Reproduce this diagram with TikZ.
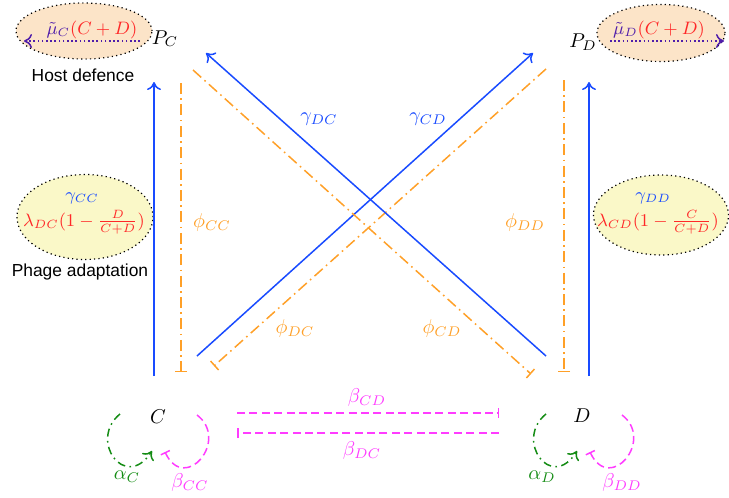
\documentclass[tikz,border=0pt]{standalone}
\usepackage{fontspec}
\newfontfamily\labelfont{Liberation Sans}
\usetikzlibrary{arrows.meta,shapes.geometric}
\definecolor{cblue}{RGB}{25,75,255}
\definecolor{corange}{RGB}{255,160,40}
\definecolor{cmag}{RGB}{255,60,255}
\definecolor{cgreen}{RGB}{20,140,20}
\definecolor{cred}{RGB}{255,40,40}
\definecolor{cpurple}{RGB}{80,30,170}
\definecolor{cpeach}{RGB}{252,228,200}
\definecolor{cyell}{RGB}{250,248,200}
\begin{document}
\begin{tikzpicture}[x=0.5pt,y=-0.5pt,
  every node/.style={inner sep=0pt},
  lw/.style={line width=0.75pt},
  gam/.style={lw, draw=cblue, -{Computer Modern Rightarrow[length=4pt,width=7pt]}},
  phi/.style={lw, draw=corange, dash pattern=on 5.5pt off 2.2pt on 0.8pt off 2.2pt, -{Bar[width=6pt]}},
  beta/.style={lw, draw=cmag, dash pattern=on 4pt off 2.2pt, -{Bar[width=5pt]}},
  alpha/.style={lw, draw=cgreen, dash pattern=on 4pt off 2.2pt on 0.8pt off 2.2pt, -{Computer Modern Rightarrow[length=4pt,width=7pt]}},
  muarrow/.style={lw, draw=cpurple, dash pattern=on 0.8pt off 1.3pt, -{Computer Modern Rightarrow[length=4pt,width=7pt]}},
  bubble/.style={ellipse, draw=black, line width=0.6pt, dash pattern=on 0.6pt off 1.6pt},
  btext/.style={font=\fontsize{9.2}{11}\selectfont},
  sans/.style={font=\labelfont\fontsize{8.7}{10}\selectfont},
  glab/.style={text=cblue},
  flab/.style={text=corange},
  blab/.style={text=cmag},
  alab/.style={text=cgreen}
]
\useasboundingbox (0,0) rectangle (729,498);
% bubbles
\node[bubble, fill=cpeach, minimum width=68pt, minimum height=28pt] (hostC) at (84,31) {};
\node[bubble, fill=cpeach, minimum width=64pt, minimum height=28.5pt] (hostD) at (661,33) {};
\node[bubble, fill=cyell, minimum width=68pt, minimum height=42.5pt] (adaC) at (85,217) {};
\node[bubble, fill=cyell, minimum width=67.5pt, minimum height=40pt] (adaD) at (661,215) {};
% bubble texts
\node[btext, anchor=base] (muC) at (92,34) {$\color{cpurple}\tilde\mu_C\color{cred}(C+D)$};
\node[btext, anchor=base] (muD) at (659,34) {$\color{cpurple}\tilde\mu_D\color{cred}(C+D)$};
\node[btext, anchor=base, glab] (gCC) at (82,200) {$\gamma_{CC}$};
\node[btext, anchor=base, text=cred] (lDC) at (84,226) {$\lambda_{DC}(1-\frac{D}{C+D})$};
\node[btext, anchor=base, glab] (gDD) at (653,200) {$\gamma_{DD}$};
\node[btext, anchor=base, text=cred] (lCD) at (658,226) {$\lambda_{CD}(1-\frac{C}{C+D})$};
\node[sans] (hd) at (83,75) {Host defence};
\node[sans] (pa) at (80,272) {Phage adaptation};
% main nodes
\node[anchor=base] (PC) at (165,44) {$P_C$};
\node[anchor=base] (PD) at (583,47) {$P_D$};
\node[anchor=base] (C) at (158,423) {$C$};
\node[anchor=base] (D) at (582,422) {$D$};
% endpoints
\coordinate (muCs) at (140,41); \coordinate (muCe) at (24,41);
\coordinate (muDs) at (610,41); \coordinate (muDe) at (724,41);
\coordinate (gCCs) at (154,376); \coordinate (gCCe) at (154,82);
\coordinate (fCCs) at (181,83); \coordinate (fCCe) at (181,372);
\coordinate (gCDs) at (197,356); \coordinate (gCDe) at (533,53);
\coordinate (fDCs) at (546,69); \coordinate (fDCe) at (214,366);
\coordinate (gDCs) at (546,356); \coordinate (gDCe) at (206,53);
\coordinate (fCDs) at (193,70); \coordinate (fCDe) at (531,374);
\coordinate (fDDs) at (564,80); \coordinate (fDDe) at (564,372);
\coordinate (gDDs) at (589,376); \coordinate (gDDe) at (589,82);
\coordinate (bCDs) at (237,413); \coordinate (bCDe) at (499,413);
\coordinate (bDCs) at (499,433); \coordinate (bDCe) at (237,433);
\coordinate (aCs) at (120,414); \coordinate (aCe) at (152,451);
\coordinate (bCCs) at (197,415); \coordinate (bCCe) at (165,452);
\coordinate (aDs) at (546,414); \coordinate (aDe) at (577,451);
\coordinate (bDDs) at (622,415); \coordinate (bDDe) at (590,452);
% connectors
\draw[muarrow] (muCs) -- (muCe);
\draw[muarrow] (muDs) -- (muDe);
\draw[gam] (gCCs) -- (gCCe);
\draw[phi] (fCCs) -- (fCCe);
\draw[gam] (gCDs) -- (gCDe);
\draw[phi] (fDCs) -- (fDCe);
\draw[gam] (gDCs) -- (gDCe);
\draw[phi] (fCDs) -- (fCDe);
\draw[phi] (fDDs) -- (fDDe);
\draw[gam] (gDDs) -- (gDDe);
\draw[beta] (bCDs) -- (bCDe);
\draw[beta] (bDCs) -- (bDCe);
\draw[alpha] (aCs) .. controls (88,440) and (125,492) .. (aCe);
\draw[beta] (bCCs) .. controls (230,440) and (185,494) .. (bCCe);
\draw[alpha] (aDs) .. controls (514,440) and (551,492) .. (aDe);
\draw[beta] (bDDs) .. controls (655,440) and (610,494) .. (bDDe);
% labels
\node[glab] (lgDC) at (319,119) {$\gamma_{DC}$};
\node[glab] (lgCD) at (428,119) {$\gamma_{CD}$};
\node[flab] (lfCC) at (212,222) {$\phi_{CC}$};
\node[flab] (lfDD) at (525,222) {$\phi_{DD}$};
\node[flab] (lfDC) at (295,328) {$\phi_{DC}$};
\node[flab] (lfCD) at (442,328) {$\phi_{CD}$};
\node[blab] (lbCD) at (367,397) {$\beta_{CD}$};
\node[blab] (lbDC) at (362,450) {$\beta_{DC}$};
\node[alab] (laC) at (127,477) {$\alpha_C$};
\node[blab] (lbCC) at (190,482) {$\beta_{CC}$};
\node[alab] (laD) at (542,477) {$\alpha_D$};
\node[blab] (lbDD) at (622,482) {$\beta_{DD}$};
\end{tikzpicture}
\end{document}
